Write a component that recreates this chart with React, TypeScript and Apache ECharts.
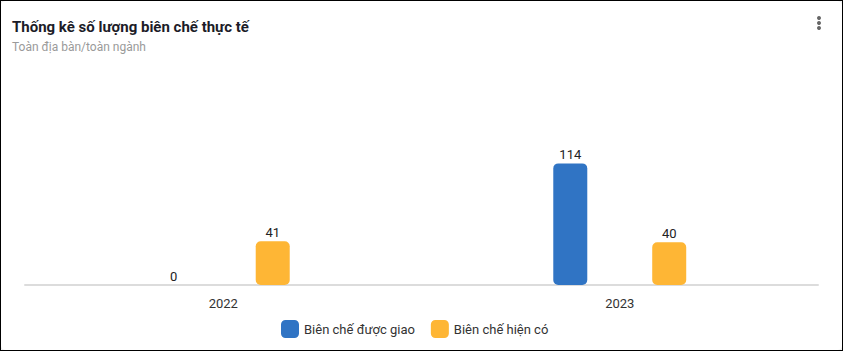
import React, { useEffect, useRef } from "react";
import * as echarts from "echarts";

const categories = ["2022", "2023"];
const seriesNames = ["Biên chế được giao", "Biên chế hiện có"];
const assigned = [0, 114];
const current = [41, 40];
const colors = ["#3074c4", "#feb635"];

export default function App() {
  const ref = useRef<HTMLDivElement>(null);
  useEffect(() => {
    const chart = echarts.init(ref.current!, null, { renderer: "svg" });
    const font = "Roboto, 'Noto Sans', sans-serif";
    chart.setOption({
      animation: false,
      color: colors,
      title: {
        text: "Thống kê số lượng biên chế thực tế",
        subtext: "Toàn địa bàn/toàn ngành",
        left: 7,
        top: 14,
        itemGap: 7,
        textStyle: { fontFamily: font, fontSize: 15, fontWeight: "bold", color: "#1c1c28" },
        subtextStyle: { fontFamily: font, fontSize: 12, color: "#9a9a9a" },
      },
      legend: {
        bottom: 8,
        left: 276,
        itemWidth: 18,
        itemHeight: 18,
        itemGap: 16,
        icon: "roundRect",
        textStyle: { fontFamily: font, fontSize: 13, color: "#333" },
        data: seriesNames,
      },
      grid: { left: 25, right: 25, top: 157, bottom: 66 },
      xAxis: {
        type: "category",
        data: categories,
        axisTick: { show: false },
        axisLine: { lineStyle: { color: "#dcdcdc", width: 2 } },
        axisLabel: { fontFamily: font, fontSize: 13, color: "#333", margin: 12 },
      },
      yAxis: { type: "value", min: 0, max: 120, show: false, splitLine: { show: false } },
      series: [
        {
          name: seriesNames[0],
          type: "bar",
          data: assigned,
          barWidth: 34,
          barGap: "191%",
          itemStyle: { borderRadius: 5 },
          label: { show: true, position: "top", distance: 2, fontFamily: font, fontSize: 13, color: "#222" },
        },
        {
          name: seriesNames[1],
          type: "bar",
          data: current,
          barWidth: 34,
          itemStyle: { borderRadius: 5 },
          label: { show: true, position: "top", distance: 2, fontFamily: font, fontSize: 13, color: "#222" },
        },
      ],
      graphic: [
        { type: "circle", shape: { cx: 819, cy: 18, r: 2 }, style: { fill: "#666" } },
        { type: "circle", shape: { cx: 819, cy: 23, r: 2 }, style: { fill: "#666" } },
        { type: "circle", shape: { cx: 819, cy: 28, r: 2 }, style: { fill: "#666" } },
      ],
    });
    return () => chart.dispose();
  }, []);
  return (
    <div style={{ position: "fixed", left: 0, top: 0, width: 843, height: 351, boxSizing: "border-box", border: "1px solid #000", background: "#fff" }}>
      <div style={{ position: "absolute", left: 0, top: 0, width: 841, height: 349, borderRadius: 4, boxShadow: "0 0 2px rgba(0,0,0,0.25)", overflow: "hidden" }}>
        <div ref={ref} style={{ position: "absolute", left: -1, top: -1, width: 843, height: 351 }} />
      </div>
    </div>
  );
}
